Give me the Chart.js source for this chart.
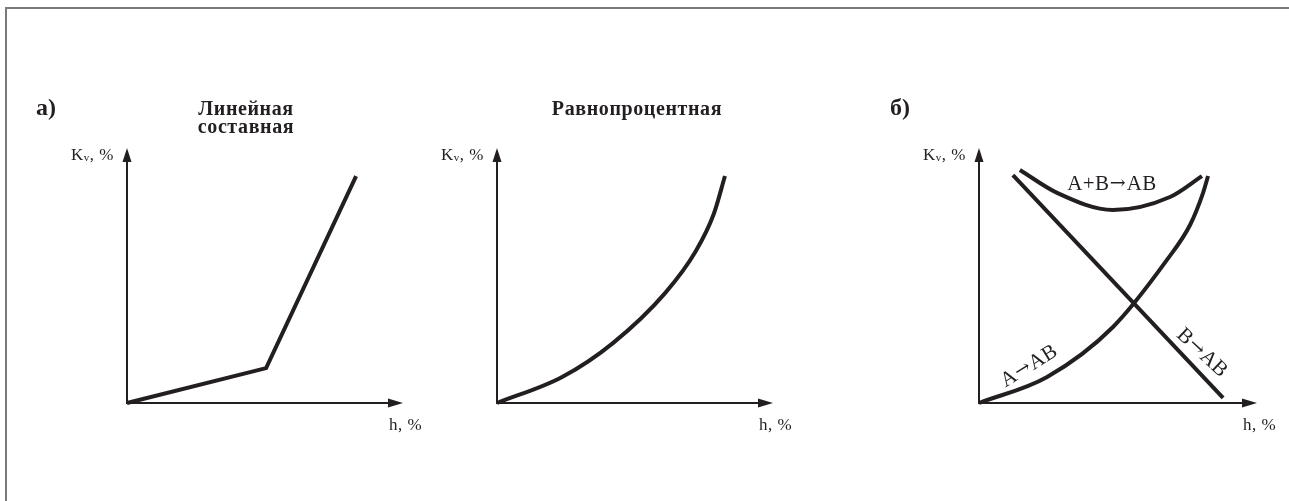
<!DOCTYPE html>
<html lang="ru">
<head>
  <meta charset="UTF-8">
  <title>Расходные характеристики</title>
  <script src="https://cdn.jsdelivr.net/npm/chart.js"></script>
  <style>
    body { margin: 0; background: #fff; }
    #wrap { position: relative; width: 1289px; height: 501px; overflow: hidden; }
    #frame { position: absolute; left: 5px; top: 7px; width: 1300px; height: 520px;
             border-top: 2px solid #7a7a7a; border-left: 2px solid #7a7a7a; }
    canvas { position: absolute; left: 0; top: 0; }
  </style>
</head>
<body>
  <div id="wrap">
    <div id="frame"></div>
    <canvas id="c1" width="1289" height="501"></canvas>
    <canvas id="c2" width="1289" height="501"></canvas>
    <canvas id="c3" width="1289" height="501"></canvas>
  </div>

  <script>
    // h, % (ход) и Kv, % (пропускная способность)
    const linearH  = [0, 50.4, 83.0];
    const linearKv = [0, 13.7, 89.0];

    const eqPctH  = [0, 23.6, 42.0, 60.9, 72.0, 78.5, 82.6];
    const eqPctKv = [0, 10.2, 23.5, 43.1, 59.5, 74.0, 89.0];

    const aToAbH  = [0, 24.5, 48.2, 67.6, 76.0, 80.6, 82.4];
    const aToAbKv = [0, 10.2, 29.8, 56.1, 70.0, 82.4, 89.0];

    const bToAbH  = [12.2, 87.8];
    const bToAbKv = [89.4, 2.0];

    const abH  = [14.7, 28.1, 48.2, 68.7, 80.2];
    const abKv = [91.4, 82.4, 75.7, 80.8, 89.0];

    const INK = '#231f20';
    const SERIF = '"Liberation Serif", "DejaVu Serif", serif';
    const ARROW_FONT = '"DejaVu Serif", serif';

    function pts(xs, ys) {
      return xs.map((x, i) => ({ x: x, y: ys[i] }));
    }

    function curve(xs, ys, smooth) {
      return {
        data: pts(xs, ys),
        showLine: true,
        borderColor: INK,
        borderWidth: 4,
        pointRadius: 0,
        clip: false,
        cubicInterpolationMode: smooth ? 'monotone' : 'default',
        tension: 0
      };
    }

    // текст из кусков разными шрифтами
    function drawParts(ctx, parts, x, y, align) {
      let total = 0;
      parts.forEach(p => { ctx.font = p.font; p.w = ctx.measureText(p.t).width + (p.gap || 0) * 2; total += p.w; });
      let cx = align === 'center' ? x - total / 2 : align === 'right' ? x - total : x;
      ctx.textAlign = 'left';
      parts.forEach(p => {
        ctx.font = p.font;
        ctx.fillText(p.t, cx + (p.gap || 0), y + (p.dy || 0));
        cx += p.w;
      });
    }

    function labelParts(text, size) {
      const out = [];
      text.split('→').forEach((seg, i) => {
        if (i > 0) out.push({ t: '→', font: Math.round(size * 0.9) + 'px ' + ARROW_FONT, dy: -1, gap: 0.5 });
        if (seg) out.push({ t: seg, font: size + 'px ' + SERIF });
      });
      return out;
    }

    // оси со стрелками, подписи и заголовки
    const axesPlugin = {
      id: 'axesPlugin',
      afterDatasetsDraw(chart, args, opts) {
        const ctx = chart.ctx;
        const xs = chart.scales.x, ys = chart.scales.y;
        const x0 = xs.getPixelForValue(0), y0 = ys.getPixelForValue(0);
        const xEnd = xs.getPixelForValue(xs.max), yEnd = ys.getPixelForValue(ys.max);
        ctx.save();
        ctx.strokeStyle = INK;
        ctx.fillStyle = INK;
        ctx.lineWidth = 2;
        ctx.beginPath();
        ctx.moveTo(x0, y0 + 1);
        ctx.lineTo(x0, yEnd + 10);
        ctx.moveTo(x0 - 1, y0);
        ctx.lineTo(xEnd - 10, y0);
        ctx.stroke();
        // стрелки
        ctx.beginPath();
        ctx.moveTo(x0, yEnd);
        ctx.lineTo(x0 - 4.5, yEnd + 14);
        ctx.lineTo(x0 + 4.5, yEnd + 14);
        ctx.closePath();
        ctx.fill();
        ctx.beginPath();
        ctx.moveTo(xEnd, y0);
        ctx.lineTo(xEnd - 15, y0 - 4.5);
        ctx.lineTo(xEnd - 15, y0 + 4.5);
        ctx.closePath();
        ctx.fill();

        ctx.textBaseline = 'alphabetic';
        ctx.letterSpacing = '0.5px';
        drawParts(ctx, [
          { t: 'K', font: '17px ' + SERIF },
          { t: 'v', font: '11px ' + SERIF, dy: 1 },
          { t: ', %', font: '17px ' + SERIF }
        ], x0 - 13, yEnd + 12, 'right');
        ctx.font = '17px ' + SERIF;
        ctx.textAlign = 'left';
        ctx.fillText('h, %', xEnd - 14, y0 + 27);

        if (opts.letter) {
          ctx.letterSpacing = '0px';
          ctx.font = 'bold 24px ' + SERIF;
          ctx.textAlign = 'left';
          ctx.fillText(opts.letter, x0 + opts.letterDx, 115);
        }
        ctx.letterSpacing = '0.6px';
        (opts.title || []).forEach((line, i) => {
          ctx.font = 'bold 20px ' + SERIF;
          ctx.textAlign = 'center';
          ctx.fillText(line, x0 + opts.titleDx, 115 + i * 18);
        });
        ctx.letterSpacing = '0.4px';
        (opts.notes || []).forEach(n => {
          ctx.save();
          ctx.translate(xs.getPixelForValue(n.h), ys.getPixelForValue(n.kv));
          ctx.rotate(n.angle * Math.PI / 180);
          drawParts(ctx, labelParts(n.text, 21), 0, 7, 'center');
          ctx.restore();
        });
        ctx.restore();
      }
    };

    function makeChart(id, left, right, datasets, extra) {
      return new Chart(document.getElementById(id), {
        type: 'scatter',
        data: { datasets: datasets },
        options: {
          responsive: false,
          animation: false,
          events: [],
          layout: { padding: { left: left, right: 1289 - right, top: 148, bottom: 501 - 403 } },
          scales: {
            x: { type: 'linear', min: 0, max: 100, display: false },
            y: { type: 'linear', min: 0, max: 100, display: false }
          },
          plugins: {
            legend: { display: false },
            tooltip: { enabled: false },
            axesPlugin: extra
          }
        },
        plugins: [axesPlugin]
      });
    }

    makeChart('c1', 127, 403, [curve(linearH, linearKv, false)], {
      letter: 'а)', letterDx: -91,
      title: ['Линейная', 'составная'], titleDx: 119
    });

    makeChart('c2', 497, 773, [curve(eqPctH, eqPctKv, true)], {
      title: ['Равнопроцентная'], titleDx: 140
    });

    makeChart('c3', 979, 1257, [
      curve(aToAbH, aToAbKv, true),
      curve(bToAbH, bToAbKv, false),
      curve(abH, abKv, true)
    ], {
      letter: 'б)', letterDx: -89,
      notes: [
        { text: 'A+B→AB', h: 47.8, kv: 86.3, angle: 0 },
        { text: 'A→AB', h: 17.8, kv: 14.9, angle: -32 },
        { text: 'B→AB', h: 80.6, kv: 20.0, angle: 43 }
      ]
    });
  </script>
</body>
</html>
